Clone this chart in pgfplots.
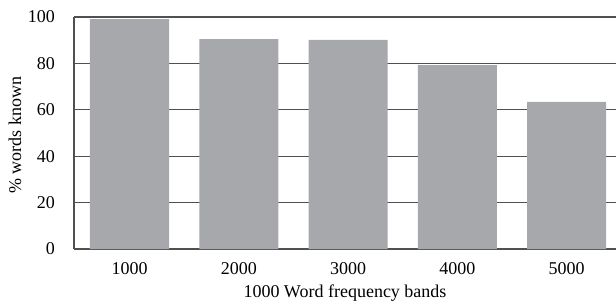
\documentclass[border=0pt]{standalone}
\usepackage{fontspec}
\setmainfont{Liberation Serif}
\usepackage{pgfplots}
\pgfplotsset{compat=1.18}
\definecolor{barcol}{RGB}{167,168,172}
\definecolor{gridcol}{RGB}{80,80,80}
\begin{document}
\begin{tikzpicture}[font=\fontsize{18bp}{21bp}\selectfont]
\begin{axis}[
  at={(0,0)}, anchor=south west,
  scale only axis,
  width=542bp, height=232bp,
  xmin=-0.508, xmax=4.453,
  ymin=0, ymax=100,
  axis x line*=bottom, axis y line*=left,
  axis line style={gridcol, line width=1.2bp, -},
  xtick={0,1,2,3,4},
  xticklabels={1000,2000,3000,4000,5000},
  ytick={0,20,40,60,80,100},
  major tick length=0pt,
  ymajorgrids,
  major grid style={gridcol, line width=1.2bp},
  /pgf/number format/assume math mode=true,
  xticklabel style={anchor=base, yshift=-25bp, inner sep=0pt},
  yticklabel style={anchor=east, xshift=-19bp, inner sep=0pt},
  xlabel={1000 Word frequency bands},
  ylabel={\% words known},
  xlabel style={at={(axis description cs:0.5,-0.2069)}, anchor=base, inner sep=0pt},
  ylabel style={at={(axis description cs:-0.109,0.49)}, anchor=center, inner sep=0pt},
  clip=false,
]
\addplot[ybar, bar width=79bp, fill=barcol, draw=none] coordinates {
  (0,99.1) (1,90.5) (2,90.1) (3,79.3) (4,63.4)
};
\end{axis}
\pgfresetboundingbox
\path[use as bounding box] (-74bp,-55bp) rectangle (542bp,249bp);
\end{tikzpicture}
\end{document}
